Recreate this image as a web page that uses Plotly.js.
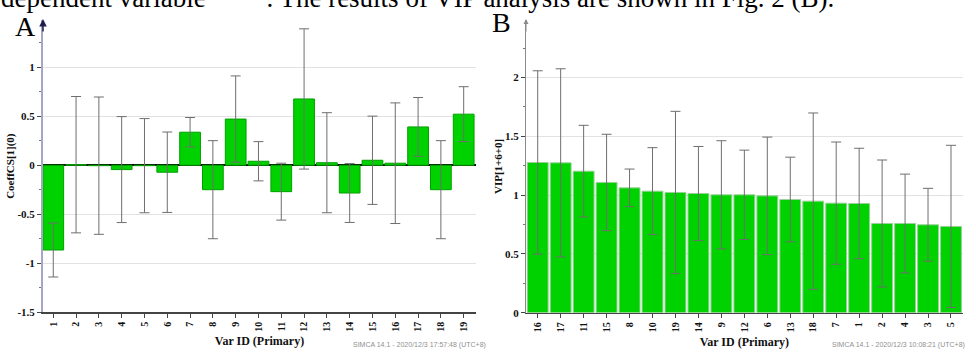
<!DOCTYPE html>
<html>
<head>
<meta charset="utf-8">
<script src="https://cdn.plot.ly/plotly-3.0.1.min.js"></script>
<style>html,body{margin:0;padding:0;background:#fff;}#chart{width:976px;height:352px;}</style>
</head>
<body>
<div id="chart"></div>
<script>
// Panel A: PLS coefficients
const varIdsA = ["1","2","3","4","5","6","7","8","9","10","11","12","13","14","15","16","17","18","19"];
const coeffA  = [-0.865, 0.005, -0.005, -0.045, -0.005, -0.072, 0.336, -0.25, 0.47, 0.04, -0.27, 0.675, 0.025, -0.284, 0.05, 0.02, 0.39, -0.25, 0.52];
const coeffErrA = [0.275, 0.695, 0.70, 0.54, 0.48, 0.41, 0.15, 0.50, 0.44, 0.20, 0.29, 0.715, 0.51, 0.30, 0.45, 0.615, 0.30, 0.50, 0.28];
const yTickValsA = [-1.5, -1, -0.5, 0, 0.5, 1];
const yTickTextA = ["-1.5", "-1", "-0.5", "0", "0.5", "1"];

// Panel B: VIP values (sorted)
const varIdsB = ["16","17","11","15","8","10","19","14","9","12","6","13","18","7","1","2","4","3","5"];
const vipB    = [1.278, 1.275, 1.204, 1.108, 1.062, 1.034, 1.023, 1.014, 1.003, 1.003, 0.994, 0.963, 0.949, 0.932, 0.929, 0.759, 0.759, 0.748, 0.734];
const vipErrB = [0.78, 0.80, 0.39, 0.41, 0.16, 0.37, 0.69, 0.40, 0.46, 0.38, 0.50, 0.36, 0.75, 0.52, 0.47, 0.54, 0.42, 0.31, 0.69];
const yTickValsB = [0, 0.5, 1, 1.5, 2];
const yTickTextB = ["0", "0.5", "1", "1.5", "2"];

const W = 976, H = 352;
const px = v => v / W;
const py = v => 1 - v / H;

const serif = "Liberation Serif, Times New Roman, serif";
const barColor = "#00d200";
const barLine = "#00a000";

const traceA = {
  type: "bar", x: varIdsA, y: coeffA, xaxis: "x", yaxis: "y",
  marker: {color: barColor, line: {color: barLine, width: 1}},
  error_y: {type: "data", array: coeffErrA, visible: true, color: "#6e6e6e", thickness: 1, width: 5},
  hoverinfo: "x+y", showlegend: false
};
const traceB = {
  type: "bar", x: varIdsB, y: vipB, xaxis: "x2", yaxis: "y2",
  marker: {color: barColor, line: {color: "#9ccf9c", width: 1}},
  error_y: {type: "data", array: vipErrB, visible: true, color: "#6e6e6e", thickness: 1, width: 5},
  hoverinfo: "x+y", showlegend: false
};

const xCommon = {
  type: "category", showgrid: false, zeroline: false,
  showline: true, linecolor: "#444", linewidth: 1.5,
  ticks: "outside", ticklen: 4, tickcolor: "#444", tickangle: -90,
  tickfont: {family: serif, size: 10, color: "#111", weight: "bold"},
  fixedrange: true, automargin: false
};
const yCommon = {
  showgrid: true, gridcolor: "#e2e2e2", gridwidth: 1,
  showline: true, ticks: "outside", ticklen: 4, tickcolor: "#444",
  tickmode: "array",
  minor: {dtick: 0.25, tick0: 0, ticks: "outside", ticklen: 2, tickcolor: "#777", showgrid: false},
  tickfont: {family: serif, size: 11, color: "#111", weight: "bold"},
  fixedrange: true, automargin: false
};

const layout = {
  width: W, height: H,
  margin: {l: 0, r: 0, t: 0, b: 0},
  paper_bgcolor: "#fff", plot_bgcolor: "#fff",
  bargap: 0.09,
  showlegend: false,
  xaxis: Object.assign({}, xCommon, {
    domain: [px(43), px(476)], range: [-0.45, 18.54], anchor: "y",
    title: {text: "Var ID (Primary)", font: {family: serif, size: 12, color: "#111", weight: "bold"}, standoff: 6}
  }),
  yaxis: Object.assign({}, yCommon, {
    domain: [py(312.3), py(20)], range: [-1.5, 1.48], anchor: "x",
    linecolor: "#a6a6c8", linewidth: 2,
    tickvals: yTickValsA, ticktext: yTickTextA,
    zeroline: true, zerolinecolor: "#000", zerolinewidth: 1.5,
    title: {text: "CoeffCS[1](0)", font: {family: serif, size: 11, color: "#111", weight: "bold"}, standoff: 1}
  }),
  xaxis2: Object.assign({}, xCommon, {
    domain: [px(526), px(962.7)], range: [-0.51, 18.51], anchor: "y2",
    title: {text: "Var ID (Primary)", font: {family: serif, size: 12, color: "#111", weight: "bold"}, standoff: 6}
  }),
  yaxis2: Object.assign({}, yCommon, {
    domain: [py(312.7), py(20)], range: [0, 2.49], anchor: "x2",
    linecolor: "#8a8a8a", linewidth: 1,
    tickvals: yTickValsB, ticktext: yTickTextB,
    zeroline: false,
    title: {text: "VIP[1+6+0]", font: {family: serif, size: 11, color: "#111", weight: "bold"}, standoff: 0}
  }),
  annotations: [
    {xref: "paper", yref: "paper", x: px(-1), y: py(-2), xanchor: "left", yanchor: "middle", showarrow: false,
     text: "dependent variable\u00a0\u00a0\u00a0\u00a0\u00a0\u00a0\u00a0\u00a0\u00a0. The results of VIP analysis are shown in Fig. 2 (B).",
     font: {family: serif, size: 27, color: "#000"}},
    {xref: "paper", yref: "paper", x: px(13), y: py(27), xanchor: "left", yanchor: "middle", showarrow: false,
     text: "A", font: {family: serif, size: 28, color: "#000"}},
    {xref: "paper", yref: "paper", x: px(490), y: py(22), xanchor: "left", yanchor: "middle", showarrow: false,
     text: "B", font: {family: serif, size: 28, color: "#000"}},
    {xref: "paper", yref: "paper", x: px(43), y: py(19), ax: 0, ay: 14, showarrow: true, text: "",
     arrowhead: 2, arrowsize: 1, arrowwidth: 1.5, arrowcolor: "#1e1e50"},
    {xref: "paper", yref: "paper", x: px(526), y: py(19), ax: 0, ay: 14, showarrow: true, text: "",
     arrowhead: 2, arrowsize: 1, arrowwidth: 1, arrowcolor: "#8a8a8a"},
    {xref: "paper", yref: "paper", x: px(488), y: py(345), xanchor: "right", yanchor: "middle", showarrow: false,
     text: "SIMCA 14.1 - 2020/12/3 17:57:48 (UTC+8)", font: {family: "Liberation Sans, Arial, sans-serif", size: 7, color: "#909090"}},
    {xref: "paper", yref: "paper", x: px(967), y: py(345), xanchor: "right", yanchor: "middle", showarrow: false,
     text: "SIMCA 14.1 - 2020/12/3 10:08:21 (UTC+8)", font: {family: "Liberation Sans, Arial, sans-serif", size: 7, color: "#909090"}}
  ]
};

Plotly.newPlot("chart", [traceA, traceB], layout, {displayModeBar: false, staticPlot: true});
</script>
</body>
</html>
